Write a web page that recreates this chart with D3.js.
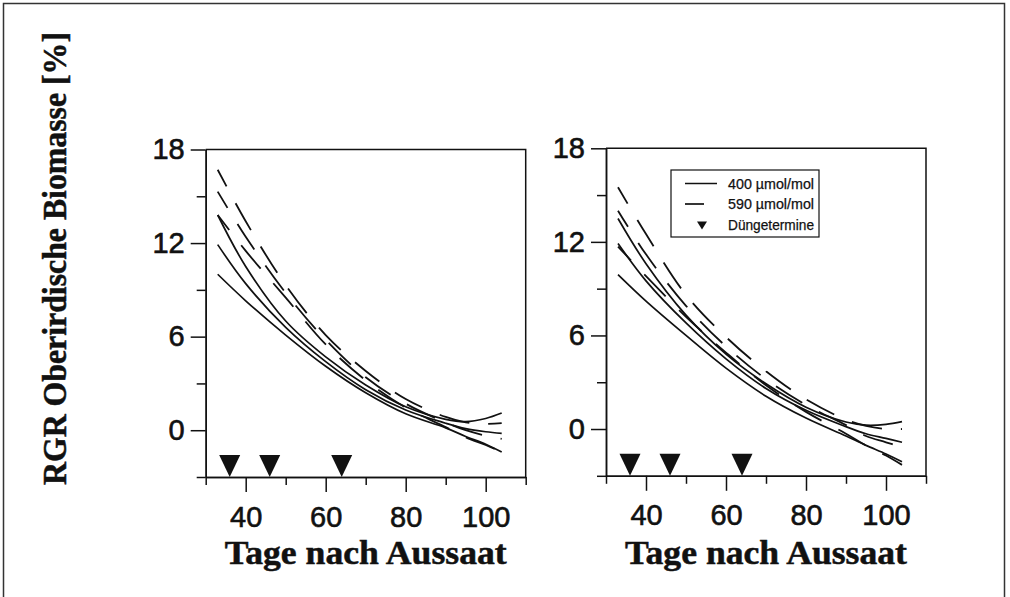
<!DOCTYPE html>
<html>
<head>
<meta charset="utf-8">
<script src="https://cdn.jsdelivr.net/npm/d3@7"></script>
<style>
  html, body { margin: 0; padding: 0; background: #fff; }
  svg { display: block; }
</style>
</head>
<body>
<svg id="chart" width="1010" height="597"></svg>
<script>
// Days after sowing at which each fitted RGR curve is sampled
const days = [33, 40, 50, 60, 70, 80, 90, 95, 100, 104];

// Left panel: 400 µmol/mol (solid) and 590 µmol/mol (dashed) fits, RGR in %
const leftSolid1 = [10.0, 8.3, 6.1, 4.1, 2.4, 1.05, 0.15, -0.4, -0.9, -1.4];
const leftSolid2 = [11.9, 9.4, 6.6, 4.4, 2.6, 1.3, 0.45, 0.1, -0.1, -0.2];
const leftSolid3 = [13.8, 10.5, 7.0, 4.7, 2.9, 1.5, 0.7, 0.55, 0.75, 1.1];
const leftDashed1 = [16.7, 13.4, 9.3, 6.1, 3.8, 2.0, 0.85, 0.5, 0.4, 0.45];
const leftDashed2 = [15.3, 12.4, 8.8, 5.8, 3.4, 1.7, 0.5, 0.0, -0.35, -0.55];
const leftDashed3 = [13.8, 11.5, 8.5, 5.5, 3.2, 1.45, 0.2, -0.45, -0.95, -1.4];

// Right panel
const rightSolid1 = [9.9, 8.2, 6.0, 3.9, 2.1, 0.7, -0.45, -1.05, -1.6, -2.1];
const rightSolid2 = [11.9, 9.5, 6.8, 4.5, 2.6, 1.2, 0.15, -0.3, -0.6, -0.85];
const rightSolid3 = [13.5, 10.6, 7.3, 4.8, 2.9, 1.4, 0.45, 0.25, 0.3, 0.47];
const rightDashed1 = [15.5, 12.5, 8.6, 5.9, 3.7, 1.9, 0.6, 0.2, 0.0, 0.0];
const rightDashed2 = [14.0, 11.2, 7.9, 5.3, 3.2, 1.55, 0.25, -0.45, -0.85, -1.17];
const rightDashed3 = [11.7, 9.8, 7.2, 4.9, 2.8, 1.1, -0.3, -1.05, -1.7, -2.3];

// Fertilisation dates (days after sowing)
const fertilizationDays = [36, 46, 64];

// Axis ticks
const xMajorTicks = [40, 60, 80, 100];
const xMinorTicks = [30, 50, 70, 90, 110];
const yMajorTicks = [0, 6, 12, 18];
const yMinorTicks = [-3, 3, 9, 15];

const xTitle = "Tage nach Aussaat";
const yTitle = "RGR Oberirdische Biomasse [%]";
const legendLabels = ["400 µmol/mol", "590 µmol/mol", "Düngetermine"];

const svg = d3.select("#chart");
const INK = "#111";
const tickFont = '"Liberation Sans", Arial, sans-serif';
const titleFont = '"Liberation Serif", "Times New Roman", serif';

// Outer frame
svg.append("rect")
  .attr("x", 3.5).attr("y", 3.5)
  .attr("width", 1001).attr("height", 640)
  .attr("fill", "none").attr("stroke", "#333").attr("stroke-width", 1.5);

const panels = [
  {
    xRange: [205.7, 525.7], yRange: [477, 149.5],
    solid: [leftSolid1, leftSolid2, leftSolid3],
    dashed: [leftDashed1, leftDashed2, leftDashed3],
    legend: false
  },
  {
    xRange: [606, 926], yRange: [475.8, 148.3],
    solid: [rightSolid1, rightSolid2, rightSolid3],
    dashed: [rightDashed1, rightDashed2, rightDashed3],
    legend: true
  }
];

function styleAxis(sel) {
  sel.selectAll(".domain").attr("stroke", INK).attr("stroke-width", 1.5);
  sel.selectAll(".tick line").attr("stroke", INK).attr("stroke-width", 1.5);
  sel.selectAll(".tick text")
    .attr("fill", INK)
    .attr("stroke", INK).attr("stroke-width", 0.6)
    .style("font-family", tickFont)
    .style("font-size", "29px");
}

panels.forEach(p => {
  const x = d3.scaleLinear().domain([30, 110]).range(p.xRange);
  const y = d3.scaleLinear().domain([-3, 18]).range(p.yRange);
  const g = svg.append("g");

  // x axis: labelled major ticks and short minor ticks
  const gxMaj = g.append("g").attr("transform", `translate(0,${y(-3)})`)
    .call(d3.axisBottom(x).tickValues(xMajorTicks).tickSize(15)
      .tickPadding(14).tickSizeOuter(0).tickFormat(d3.format("d")));
  styleAxis(gxMaj);
  const gxMin = g.append("g").attr("transform", `translate(0,${y(-3)})`)
    .call(d3.axisBottom(x).tickValues(xMinorTicks).tickSize(8)
      .tickSizeOuter(0).tickFormat(""));
  styleAxis(gxMin);

  // y axis
  const gyMaj = g.append("g").attr("transform", `translate(${x(30)},0)`)
    .call(d3.axisLeft(y).tickValues(yMajorTicks).tickSize(15)
      .tickPadding(6).tickSizeOuter(0).tickFormat(d3.format("d")));
  styleAxis(gyMaj);
  const gyMin = g.append("g").attr("transform", `translate(${x(30)},0)`)
    .call(d3.axisLeft(y).tickValues(yMinorTicks).tickSize(9)
      .tickSizeOuter(0).tickFormat(""));
  styleAxis(gyMin);

  // Top and right frame lines
  g.append("path")
    .attr("d", `M${x(30)},${y(18)}H${x(110)}V${y(-3)}`)
    .attr("fill", "none").attr("stroke", INK).attr("stroke-width", 1.5);

  const line = d3.line()
    .x(d => x(d[0])).y(d => y(d[1]))
    .curve(d3.curveCatmullRom.alpha(0.5));

  p.solid.forEach(vals => {
    g.append("path")
      .datum(d3.zip(days, vals))
      .attr("d", line)
      .attr("fill", "none").attr("stroke", INK).attr("stroke-width", 1.7);
  });
  p.dashed.forEach(vals => {
    g.append("path")
      .datum(d3.zip(days, vals))
      .attr("d", line)
      .attr("fill", "none").attr("stroke", INK).attr("stroke-width", 1.8)
      .attr("stroke-dasharray", "31,19").attr("stroke-dashoffset", 12);
  });

  // Fertilisation markers: downward triangles resting on the x axis
  const base = y(-3);
  g.selectAll("path.fert").data(fertilizationDays).enter().append("path")
    .attr("class", "fert")
    .attr("d", d => `M${x(d) - 10.5},${base - 22}L${x(d) + 10.5},${base - 22}L${x(d)},${base}Z`)
    .attr("fill", INK);

  // x axis title
  g.append("text")
    .attr("x", (p.xRange[0] + p.xRange[1]) / 2)
    .attr("y", 564)
    .attr("text-anchor", "middle")
    .attr("textLength", 282).attr("lengthAdjust", "spacingAndGlyphs")
    .attr("stroke", INK).attr("stroke-width", 0.5)
    .style("font-family", titleFont).style("font-weight", "bold").style("font-size", "33px")
    .attr("fill", INK)
    .text(xTitle);

  if (p.legend) {
    const lg = g.append("g");
    lg.append("rect")
      .attr("x", 671).attr("y", 170).attr("width", 148).attr("height", 67)
      .attr("fill", "#fff").attr("stroke", INK).attr("stroke-width", 1.2);
    const rows = [188.5, 209, 229.5];
    lg.append("line").attr("x1", 685).attr("x2", 717).attr("y1", rows[0] - 5).attr("y2", rows[0] - 5)
      .attr("stroke", INK).attr("stroke-width", 1.5);
    lg.append("line").attr("x1", 685).attr("x2", 704).attr("y1", rows[1] - 5).attr("y2", rows[1] - 5)
      .attr("stroke", INK).attr("stroke-width", 1.7);
    lg.append("path")
      .attr("d", `M697,${rows[2] - 8}L707,${rows[2] - 8}L702,${rows[2]}Z`)
      .attr("fill", INK);
    lg.selectAll("text.lab").data(legendLabels).enter().append("text")
      .attr("class", "lab")
      .attr("x", 728).attr("y", (d, i) => rows[i])
      .attr("textLength", 86).attr("lengthAdjust", "spacingAndGlyphs")
      .attr("stroke", INK).attr("stroke-width", 0.25)
      .style("font-family", tickFont).style("font-size", "14px")
      .attr("fill", INK)
      .text(d => d);
  }
});

// Shared y axis title
svg.append("text")
  .attr("transform", "translate(66,258.5) rotate(-90)")
  .attr("text-anchor", "middle")
  .attr("textLength", 453).attr("lengthAdjust", "spacingAndGlyphs")
  .attr("stroke", INK).attr("stroke-width", 0.5)
  .style("font-family", titleFont).style("font-weight", "bold").style("font-size", "33px")
  .attr("fill", INK)
  .text(yTitle);
</script>
</body>
</html>
